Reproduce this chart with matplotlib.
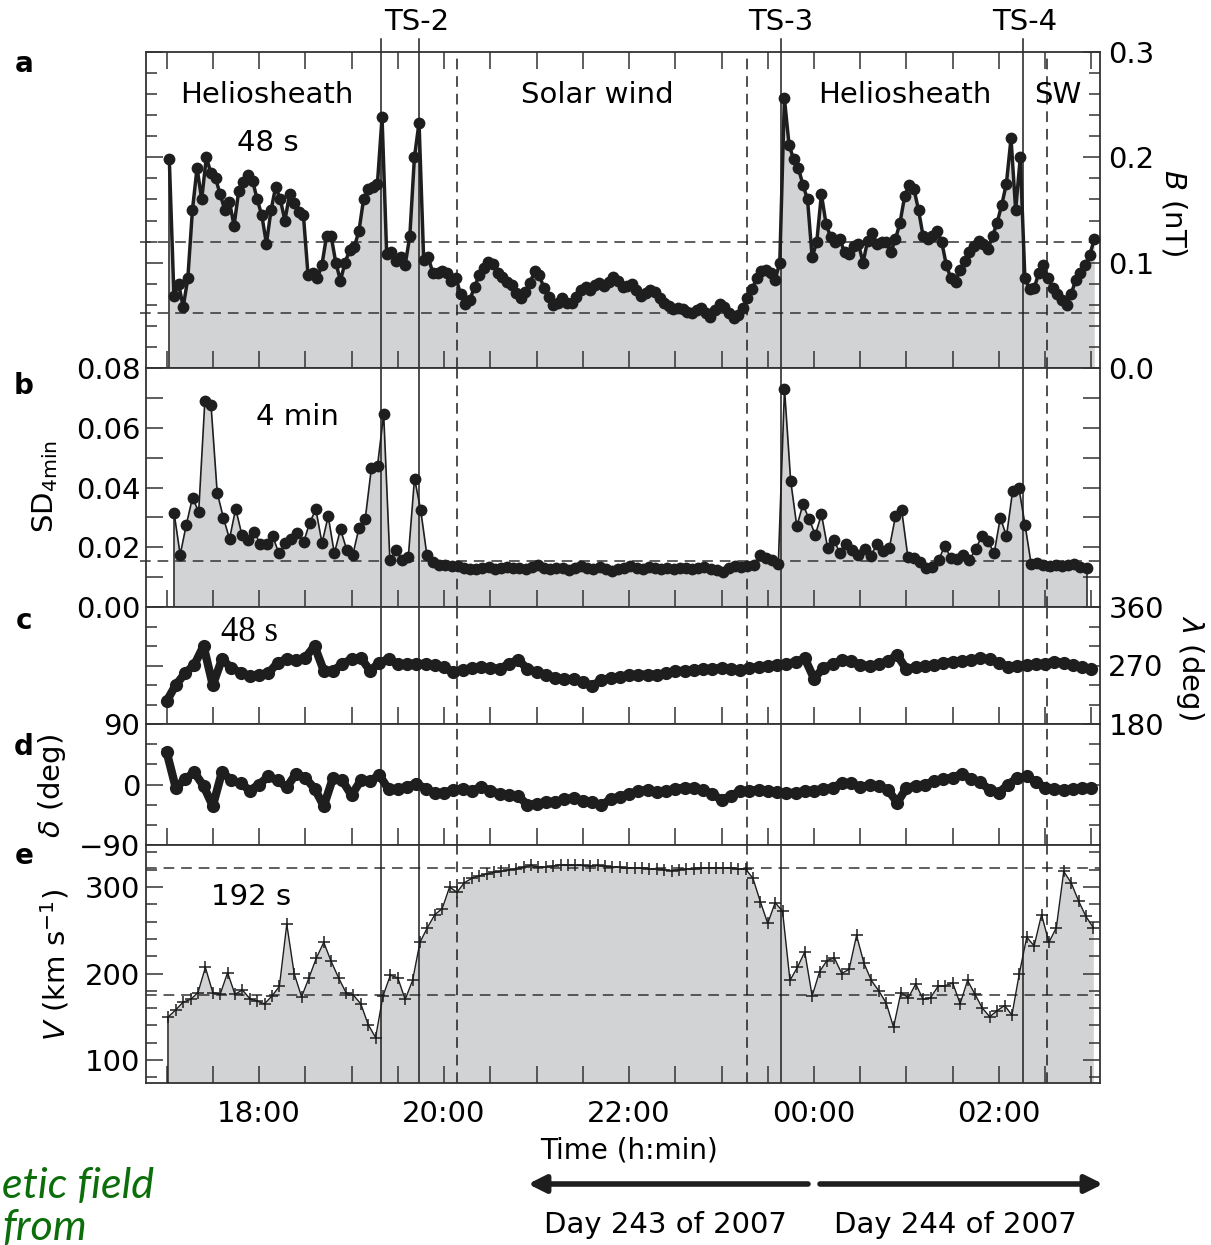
import matplotlib.pyplot as plt
from matplotlib.ticker import MultipleLocator, FixedLocator, FormatStrFormatter
from matplotlib.patches import FancyArrowPatch
import numpy as np

plt.rcParams['font.family'] = ['DejaVu Sans']
plt.rcParams['mathtext.fontset'] = 'dejavusans'

# time in hours from the start of day 243 (values above 24 are on day 244)
# panel a: field strength B (nT), 3 min samples
b_t0, b_dt = 17.03, 0.05
b_nT = [0.198, 0.068, 0.080, 0.058, 0.085, 0.150, 0.190, 0.160, 0.200, 0.185,
        0.180, 0.165, 0.150, 0.158, 0.135, 0.168, 0.177, 0.183, 0.178, 0.160,
        0.145, 0.118, 0.150, 0.172, 0.160, 0.140, 0.165, 0.157, 0.148, 0.145,
        0.088, 0.090, 0.085, 0.098, 0.125, 0.125, 0.100, 0.083, 0.100, 0.112,
        0.115, 0.130, 0.160, 0.170, 0.172, 0.175, 0.238, 0.108, 0.110, 0.102,
        0.105, 0.098, 0.125, 0.200, 0.233, 0.103, 0.105, 0.090, 0.090, 0.092,
        0.090, 0.083, 0.085, 0.070, 0.061, 0.065, 0.077, 0.088, 0.095, 0.101,
        0.099, 0.090, 0.086, 0.082, 0.079, 0.071, 0.066, 0.072, 0.081, 0.092,
        0.088, 0.076, 0.067, 0.060, 0.062, 0.066, 0.062, 0.062, 0.067, 0.074,
        0.077, 0.074, 0.079, 0.081, 0.078, 0.082, 0.086, 0.083, 0.077, 0.078,
        0.080, 0.074, 0.068, 0.071, 0.074, 0.072, 0.066, 0.062, 0.059, 0.056,
        0.057, 0.056, 0.053, 0.052, 0.055, 0.057, 0.052, 0.048, 0.055, 0.061,
        0.058, 0.052, 0.047, 0.050, 0.057, 0.066, 0.075, 0.085, 0.092, 0.093,
        0.090, 0.084, 0.100, 0.256, 0.212, 0.198, 0.190, 0.174, 0.160, 0.105,
        0.120, 0.165, 0.137, 0.124, 0.120, 0.122, 0.110, 0.108, 0.116, 0.118,
        0.100, 0.121, 0.128, 0.118, 0.120, 0.120, 0.110, 0.122, 0.138, 0.163,
        0.174, 0.170, 0.150, 0.125, 0.122, 0.125, 0.130, 0.120, 0.098, 0.085,
        0.082, 0.093, 0.102, 0.110, 0.116, 0.121, 0.118, 0.113, 0.125, 0.138,
        0.155, 0.175, 0.218, 0.150, 0.200, 0.085, 0.075, 0.076, 0.090, 0.098,
        0.085, 0.076, 0.070, 0.065, 0.060, 0.070, 0.084, 0.090, 0.098, 0.107,
        0.122]

# panel b: 4 min standard deviation
sd_t0, sd_dt = 17.081, 4 / 60
sd_4min = [0.0316, 0.0175, 0.0276, 0.0366, 0.0318, 0.069, 0.0676, 0.0383, 0.0299, 0.0228,
           0.0329, 0.0242, 0.0225, 0.025, 0.0212, 0.021, 0.0237, 0.018, 0.0214, 0.0228,
           0.0248, 0.0216, 0.0282, 0.0327, 0.0214, 0.0304, 0.018, 0.026, 0.0192, 0.0175,
           0.0265, 0.0293, 0.0464, 0.0473, 0.0645, 0.0158, 0.0192, 0.0158, 0.0169, 0.043,
           0.0325, 0.0175, 0.0152, 0.0141,
           0.0141, 0.0138, 0.0136, 0.0132, 0.0128, 0.0126, 0.0130, 0.0133, 0.0128, 0.0131,
           0.0135, 0.0129, 0.0132, 0.0127, 0.0134, 0.0140, 0.0130, 0.0127, 0.0132, 0.0129,
           0.0124, 0.0131, 0.0136, 0.0130, 0.0127, 0.0133, 0.0128, 0.0119, 0.0127, 0.0132,
           0.0136, 0.0130, 0.0126, 0.0133, 0.0130, 0.0128, 0.0132, 0.0127, 0.0131, 0.0129,
           0.0126, 0.0130, 0.0133, 0.0128, 0.0125, 0.0118, 0.0130, 0.0136, 0.0134, 0.0138, 0.0142,
           0.0175, 0.0165, 0.0158, 0.0144, 0.073, 0.0423, 0.027, 0.0344, 0.0293, 0.0242,
           0.031, 0.0197, 0.0225, 0.018, 0.0211, 0.0192, 0.0175, 0.0194, 0.0171, 0.0211,
           0.0186, 0.0197, 0.0304, 0.0325, 0.0169, 0.0163, 0.0152, 0.013, 0.0135, 0.0158,
           0.0205, 0.0163, 0.016, 0.0175, 0.0158, 0.0194, 0.0237, 0.022, 0.018, 0.0299,
           0.0237, 0.0389, 0.040, 0.0276, 0.0144, 0.0147,
           0.0140, 0.0138, 0.0142, 0.0136, 0.0140, 0.0143, 0.0135, 0.0130]

# panels c, d: field direction angles (deg), 6 min samples
ang_t0, ang_dt = 17.0, 0.1
lam_deg = [215, 240, 258, 271, 300, 240, 280, 266, 259, 254,
           256, 258, 274, 280, 278, 282, 300, 262, 262, 272,
           280, 282, 262, 274, 280, 272, 272, 273, 272, 271,
           267, 260, 263, 266, 267, 266, 265, 272, 279, 265,
           260, 256, 251, 249, 249, 244, 239, 247, 251, 253,
           255, 256, 256, 256, 258, 261, 262, 263, 264, 265,
           266, 264, 263, 266, 268, 270, 271, 273, 275, 281,
           250, 266, 272, 278, 277, 271, 269, 272, 277, 286,
           264, 267, 269, 271, 274, 276, 277, 279, 281, 280,
           274, 268, 270, 271, 272, 273, 276, 274, 271, 268,
           264]
delta_deg = [49, -5, 8, 18, -2, -32, 19, 6, 2, -9,
             0, 12, 6, -4, 16, 10, -6, -32, 10, 6,
             -16, 6, 5, 14, -7, -7, -3, 1, -6, -13,
             -12, -8, -6, -9, -4, -9, -14, -16, -17, -30,
             -29, -26, -26, -22, -20, -24, -26, -31, -22, -18,
             -14, -10, -8, -11, -10, -6, -5, -5, -8, -14,
             -23, -17, -10, -9, -8, -9, -11, -13, -12, -10,
             -9, -7, -5, 2, 2, -4, -1, -2, -8, -27,
             -5, -2, 0, 5, 8, 10, 16, 8, 3, -8,
             -12, 0, 10, 12, 4, -5, -7, -8, -6, -5,
             -5]

# panel e: plasma speed V (km/s)
v_t0, v_dt = 17.02, 0.08
v_kms = [150, 158, 167, 170, 178, 207, 178, 176, 201, 176,
         181, 171, 168, 165, 174, 185, 257, 200, 173, 195,
         218, 236, 214, 195, 178, 175, 165, 141, 126, 174,
         198, 195, 170, 192, 236, 253, 268, 275, 300, 294,
         305, 310, 313, 315, 317, 318, 320, 321, 323, 325,
         323, 323, 324, 326, 325, 325, 325, 324, 325, 324,
         323, 323, 322, 322, 322, 321, 321, 320, 319, 320,
         321, 321, 322, 322, 322, 322, 322, 321, 321, 310,
         283, 258, 282, 272, 192, 207, 225, 174, 202, 215,
         218, 200, 205, 244, 212, 192, 180, 166, 138, 178,
         172, 188, 170, 172, 185, 186, 189, 165, 192, 176,
         160, 150, 157, 163, 152, 200, 242, 232, 268, 236,
         253, 318, 305, 284, 266, 253]

ts_solid = [19.32, 19.73, 23.64, 26.26]
ts_dashed = [20.135, 23.28, 26.52]
ts_names = ['TS-2', 'TS-3', 'TS-4']
ts_name_at = [19.70, 23.64, 26.28]
regions = ['Heliosheath', 'Solar wind', 'Heliosheath', 'SW']
region_at = [18.086, 21.654, 24.984, 26.638]
b_levels = [0.12, 0.052]
sd_levels = [0.0153]
v_levels = [322, 175]
hour_ticks = [18, 20, 22, 24, 26]
hour_labels = ['18:00', '20:00', '22:00', '00:00', '02:00']

ink = '#1e1e1e'
grey = '#d2d3d5'
W, H = 1211, 1245


def box(top, bot):
    return [146 / W, 1 - bot / H, 954 / W, (bot - top) / H]


def fpos(x, y):
    return x / W, 1 - y / H


fig = plt.figure(figsize=(W / 100, H / 100), dpi=100)
axa = fig.add_axes(box(52, 368))
axb = fig.add_axes(box(368, 607))
axc = fig.add_axes(box(607, 724))
axd = fig.add_axes(box(724, 845))
axe = fig.add_axes(box(845, 1083))
axes = [axa, axb, axc, axd, axe]

for ax in axes:
    ax.set_xlim(16.778, 27.092)
    ax.xaxis.set_major_locator(FixedLocator(hour_ticks))
    ax.xaxis.set_minor_locator(MultipleLocator(0.5))
    ax.tick_params(axis='x', which='both', direction='in', length=12, width=1.1,
                   top=False, bottom=True, labelbottom=False, color='#333333')
    ax.tick_params(axis='y', which='both', direction='in', left=True, right=True,
                   width=1.1, labelsize=21, pad=4, color='#333333')
    ax.tick_params(axis='y', which='major', length=12)
    ax.tick_params(axis='y', which='minor', length=8)
    for s in ax.spines.values():
        s.set_linewidth(1.3)
        s.set_color('#333333')
    for t in ts_solid:
        ax.axvline(t, color=ink, lw=1.1, zorder=2.5)
    for t in ts_dashed:
        ax.axvline(t, color=ink, lw=1.1, ls=(0, (7, 4.5)), zorder=2.5)

axa.tick_params(axis='x', which='both', top=True)

# a: B
t = b_t0 + b_dt * np.arange(len(b_nT))
axa.fill_between(t, 0, b_nT, color=grey, lw=0, zorder=1)
axa.plot([t[0], t[0]], [0, b_nT[0]], color=ink, lw=1.1, zorder=3)
axa.plot(t, b_nT, '-', color=ink, lw=2.5, zorder=3)
axa.plot(t, b_nT, 'o', color=ink, ms=8.5, mew=0, zorder=3)
for v in b_levels:
    axa.plot([16.71, 27.092], [v, v], color='#333333', lw=1.1, ls=(0, (7, 4.5)),
             zorder=2, clip_on=False)
axa.set_ylim(0, 0.3)
axa.yaxis.set_major_locator(MultipleLocator(0.1))
axa.yaxis.set_minor_locator(MultipleLocator(0.02))
axa.yaxis.set_major_formatter(FormatStrFormatter('%.1f'))
axa.tick_params(axis='y', labelleft=False, labelright=True, pad=6)
for t_ in ts_solid:
    axa.plot([t_, t_], [0.3, 0.312], color=ink, lw=1.1, clip_on=False)
for name, t_ in zip(ts_names, ts_name_at):
    axa.text(t_, 0.3285, name, ha='center', va='center', fontsize=21)
for name, t_ in zip(regions, region_at):
    axa.text(t_, 0.864, name, ha='center', va='center', fontsize=21,
             transform=axa.get_xaxis_transform())
axa.text(18.097, 0.712, '48 s', ha='center', va='center', fontsize=21,
         transform=axa.get_xaxis_transform())

# b: SD 4 min
t = sd_t0 + sd_dt * np.arange(len(sd_4min))
axb.fill_between(t, 0, sd_4min, color=grey, lw=0, zorder=1)
axb.plot([t[0], t[0]], [0, sd_4min[0]], color=ink, lw=1.1, zorder=3)
axb.plot([t[-1], t[-1]], [0, sd_4min[-1]], color=ink, lw=1.1, zorder=3)
axb.plot(t, sd_4min, '-o', color=ink, lw=1.2, ms=8.5, mew=0, zorder=3)
for v in sd_levels:
    axb.plot([16.71, 27.092], [v, v], color='#333333', lw=1.1, ls=(0, (7, 4.5)),
             zorder=2, clip_on=False)
axb.set_ylim(0, 0.08)
axb.yaxis.set_major_locator(MultipleLocator(0.02))
axb.yaxis.set_minor_locator(MultipleLocator(0.01))
axb.yaxis.set_major_formatter(FormatStrFormatter('%.2f'))
axb.tick_params(axis='y', which='minor', length=12)
axb.text(18.41, 0.795, '4 min', ha='center', va='center', fontsize=21,
         transform=axb.get_xaxis_transform())

# c: lambda
t = ang_t0 + ang_dt * np.arange(len(lam_deg))
axc.plot(t, lam_deg, '-o', color=ink, lw=6, ms=9.5, mew=0, zorder=3)
axc.set_ylim(180, 360)
axc.yaxis.set_major_locator(MultipleLocator(90))
axc.yaxis.set_minor_locator(MultipleLocator(30))
axc.tick_params(axis='y', labelleft=False, labelright=True, pad=6)
axc.text(17.90, 0.778, '48 s', ha='center', va='center', fontsize=25,
         family='Liberation Serif', transform=axc.get_xaxis_transform())

# d: delta
t = ang_t0 + ang_dt * np.arange(len(delta_deg))
axd.plot(t, delta_deg, '-o', color=ink, lw=6, ms=9.5, mew=0, zorder=3)
axd.set_ylim(-90, 90)
axd.yaxis.set_major_locator(MultipleLocator(90))
axd.yaxis.set_minor_locator(MultipleLocator(30))

# e: V
t = v_t0 + v_dt * np.arange(len(v_kms))
axe.set_ylim(73.4, 348.6)
axe.fill_between(t, 73.4, v_kms, color=grey, lw=0, zorder=1)
axe.plot([t[0], t[0]], [73.4, v_kms[0]], color=ink, lw=1.1, zorder=3)
axe.plot(t, v_kms, '-+', color=ink, lw=1.0, ms=8, mew=1.1, zorder=3)
for v in v_levels:
    axe.axhline(v, color='#333333', lw=1.1, ls=(0, (7, 4.5)), zorder=2)
axe.yaxis.set_major_locator(MultipleLocator(100))
axe.yaxis.set_minor_locator(MultipleLocator(20))
axe.xaxis.set_major_formatter(plt.FixedFormatter(hour_labels))
axe.tick_params(axis='x', which='major', labelbottom=True, labelsize=21, pad=12)
axe.text(17.91, 0.781, '192 s', ha='center', va='center', fontsize=21,
         transform=axe.get_xaxis_transform())

# panel letters and axis labels
for letter, y in zip('abcde', [64, 386, 621, 747, 856]):
    fig.text(*fpos(24, y), letter, ha='center', va='center', fontsize=20,
             fontweight='bold')
fig.text(*fpos(45, 487), r'SD$_{\mathrm{4min}}$', rotation=90, ha='center',
         va='center', fontsize=21)
fig.text(*fpos(52, 786), r'$\delta$ (deg)', rotation=90, ha='center',
         va='center', fontsize=21)
fig.text(*fpos(55, 965), r'$V$ (km s$^{-1}$)', rotation=90, ha='center',
         va='center', fontsize=21)
fig.text(*fpos(1174, 213), r'$B$ (nT)', rotation=-90, ha='center',
         va='center', fontsize=21)
fig.text(*fpos(1190, 667), r'$\lambda$ (deg)', rotation=-90, ha='center',
         va='center', fontsize=21)

fig.text(*fpos(629, 1150), 'Time (h:min)', ha='center', va='center', fontsize=20)
fig.add_artist(FancyArrowPatch(fpos(808, 1184), fpos(528, 1184),
                               transform=fig.transFigure, arrowstyle='-|>',
                               mutation_scale=26, lw=4, color=ink,
                               shrinkA=0, shrinkB=0))
fig.add_artist(FancyArrowPatch(fpos(820, 1184), fpos(1103, 1184),
                               transform=fig.transFigure, arrowstyle='-|>',
                               mutation_scale=26, lw=4, color=ink,
                               shrinkA=0, shrinkB=0))
fig.text(*fpos(665, 1225), 'Day 243 of 2007', ha='center', va='center', fontsize=21)
fig.text(*fpos(955, 1225), 'Day 244 of 2007', ha='center', va='center', fontsize=21)

fig.text(*fpos(2, 1198), 'etic field', ha='left', va='baseline',
         fontsize=31, style='italic', family='Lato', color='#0b6e0b')
fig.text(*fpos(2, 1240), 'from', ha='left', va='baseline',
         fontsize=31, style='italic', family='Lato', color='#0b6e0b')

fig.savefig('out.png', dpi=100)
